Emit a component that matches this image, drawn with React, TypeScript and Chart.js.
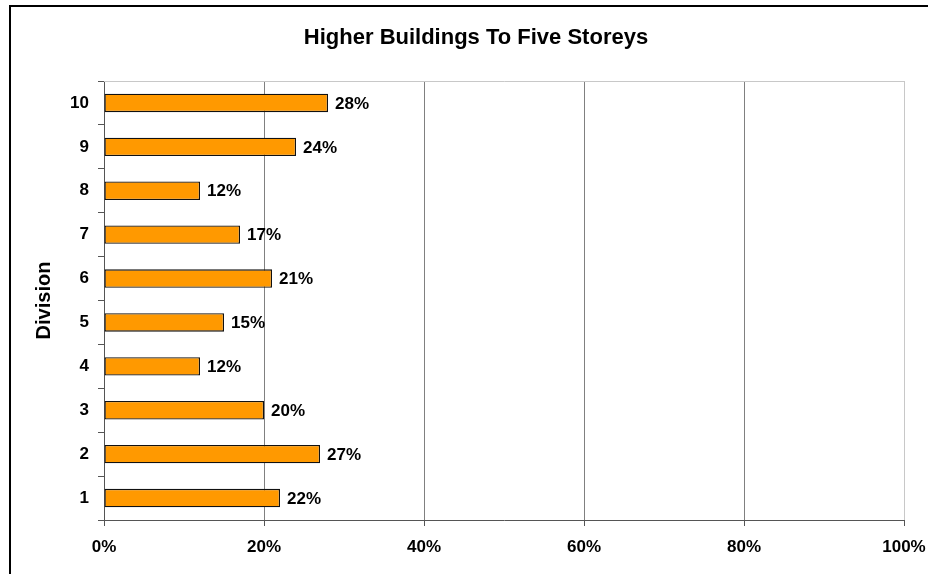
import React, { useEffect, useRef } from "react";
import { Chart, registerables } from "chart.js";

Chart.register(...registerables);

const chartTitle = "Higher Buildings To Five Storeys";
const axisTitle = "Division";
const divisions = ["1", "2", "3", "4", "5", "6", "7", "8", "9", "10"];
const shares = [22, 27, 20, 12, 15, 21, 17, 12, 24, 28];
const xTickValues = [0, 20, 40, 60, 80, 100];

const FONT = "'Liberation Sans', Arial, sans-serif";

const framePlugin = {
  id: "frame",
  beforeDraw(chart: any) {
    const { ctx, width, height } = chart;
    ctx.save();
    ctx.fillStyle = "#ffffff";
    ctx.fillRect(0, 0, width, height);
    ctx.strokeStyle = "#000000";
    ctx.lineWidth = 2;
    ctx.strokeRect(10, 6, width + 20, height + 20);
    ctx.restore();
  },
  beforeDatasetsDraw(chart: any) {
    const { ctx, chartArea } = chart;
    ctx.save();
    ctx.strokeStyle = "#c8c8c8";
    ctx.lineWidth = 1;
    ctx.beginPath();
    ctx.moveTo(chartArea.left, chartArea.top + 0.5);
    ctx.lineTo(chartArea.right + 0.5, chartArea.top + 0.5);
    ctx.lineTo(chartArea.right + 0.5, chartArea.bottom);
    ctx.stroke();
    ctx.restore();
  },
  afterDraw(chart: any) {
    const { ctx } = chart;
    ctx.save();
    ctx.fillStyle = "#000000";
    ctx.font = `bold 22px ${FONT}`;
    ctx.textAlign = "center";
    ctx.textBaseline = "middle";
    ctx.fillText(chartTitle, 476, 38);
    ctx.restore();
  },
};

const valueLabelPlugin = {
  id: "valueLabels",
  afterDatasetsDraw(chart: any) {
    const { ctx } = chart;
    const meta = chart.getDatasetMeta(0);
    const data = chart.data.datasets[0].data;
    ctx.save();
    ctx.fillStyle = "#000000";
    ctx.font = `bold 17px ${FONT}`;
    ctx.textAlign = "left";
    ctx.textBaseline = "middle";
    meta.data.forEach((bar: any, i: number) => {
      ctx.fillText(`${data[i]}%`, bar.x + 7, bar.y + 1);
    });
    ctx.restore();
  },
};

export default function App() {
  const canvasRef = useRef<HTMLCanvasElement | null>(null);

  useEffect(() => {
    if (!canvasRef.current) return;
    const chart = new Chart(canvasRef.current, {
      type: "bar",
      data: {
        labels: divisions,
        datasets: [
          {
            data: shares,
            backgroundColor: "#FF9900",
            borderColor: "#111111",
            borderWidth: 1.3,
            borderSkipped: false,
            barPercentage: 0.42,
            categoryPercentage: 1,
          },
        ],
      },
      options: {
        indexAxis: "y",
        animation: false,
        responsive: false,
        maintainAspectRatio: false,
        layout: { padding: { top: 81, right: 24, bottom: 0, left: 0 } },
        plugins: {
          legend: { display: false },
          title: { display: false },
          tooltip: { enabled: false },
        },
        scales: {
          x: {
            type: "linear",
            min: 0,
            max: 100,
            afterBuildTicks: (scale: any) => {
              scale.ticks = xTickValues.map((v) => ({ value: v }));
            },
            afterFit: (scale: any) => {
              scale.height = 54;
              scale.paddingLeft = 0;
              scale.paddingRight = 0;
            },
            ticks: {
              callback: (v: any) => `${v}%`,
              color: "#000000",
              font: { family: FONT, size: 17, weight: "bold" },
              padding: 11,
              maxRotation: 0,
            },
            grid: {
              color: (c: any) =>
                c.tick && c.tick.value === 100 ? "#c8c8c8" : "#808080",
              tickColor: "#555555",
              tickLength: 6,
              lineWidth: 1,
            },
            border: { color: "#555555", width: 1 },
          },
          y: {
            type: "category",
            reverse: true,
            afterFit: (scale: any) => {
              scale.width = 104;
              scale.paddingTop = 0;
              scale.paddingBottom = 0;
            },
            title: {
              display: true,
              text: axisTitle,
              color: "#000000",
              font: { family: FONT, size: 20, weight: "bold" },
              padding: { top: 32, bottom: 0 },
            },
            ticks: {
              color: "#000000",
              font: { family: FONT, size: 17, weight: "bold" },
              padding: 9,
            },
            grid: {
              offset: true,
              drawOnChartArea: false,
              drawTicks: true,
              tickLength: 6,
              tickColor: "#555555",
              color: "#555555",
            },
            border: { color: "#555555", width: 1 },
          },
        },
      },
      plugins: [framePlugin, valueLabelPlugin],
    });
    return () => chart.destroy();
  }, []);

  return (
    <div
      style={{
        position: "fixed",
        left: 0,
        top: 0,
        width: 928,
        height: 574,
        overflow: "hidden",
        background: "#ffffff",
      }}
    >
      <canvas ref={canvasRef} width={928} height={574} style={{ display: "block" }} />
    </div>
  );
}
